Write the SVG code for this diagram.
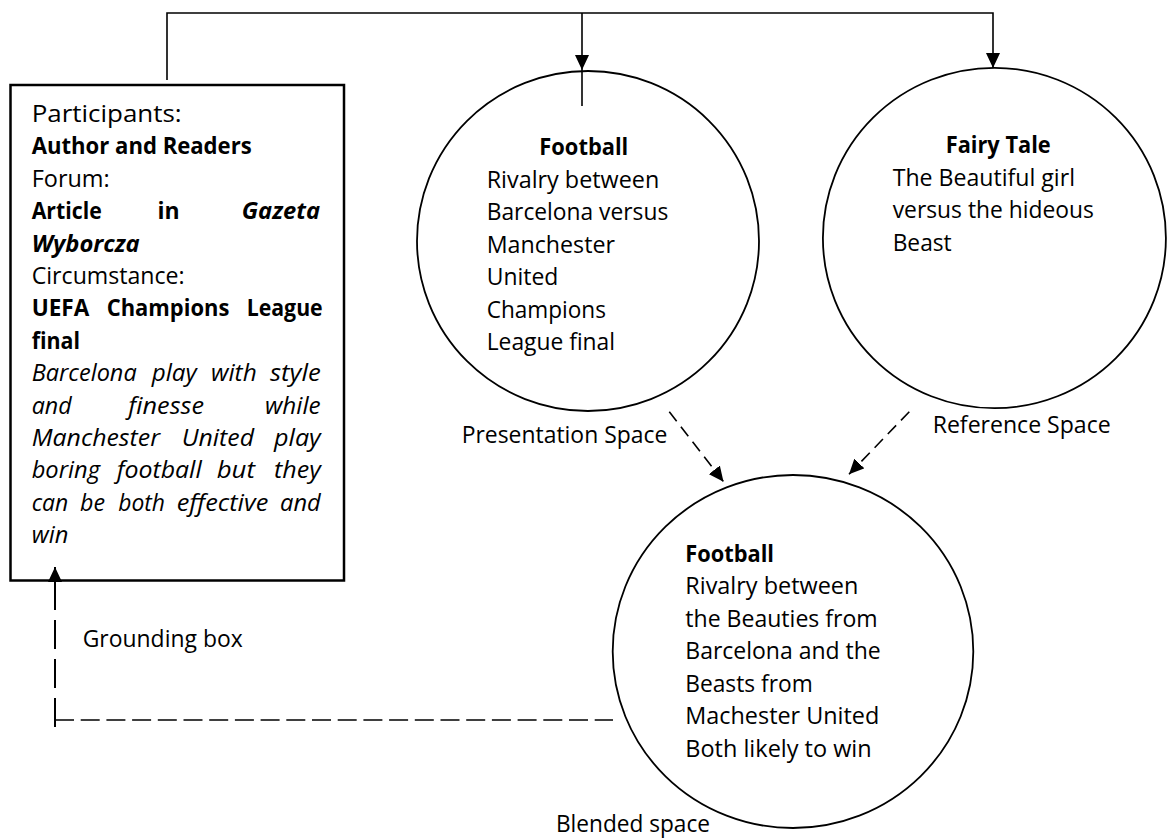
<svg xmlns="http://www.w3.org/2000/svg" width="1168" height="840" viewBox="0 0 1168 840">
<defs>
<style>
text{font-family:"Open Sans","Liberation Sans",sans-serif;font-size:23px;fill:#000}
.b{font-weight:bold}
.i{font-style:italic}
.shape{fill:#fff;stroke:#000;stroke-width:1.8}
.box{fill:#fff;stroke:#000;stroke-width:2.5}
.conn{fill:none;stroke:#000;stroke-width:1.6}
.dash{stroke-dasharray:12 7}
</style>
<marker id="arr" viewBox="0 0 15 14" refX="15" refY="7" markerWidth="15" markerHeight="14" markerUnits="userSpaceOnUse" orient="auto">
<path d="M0,0 L15,7 L0,14 z" fill="#000"/>
</marker>
</defs>
<rect width="1168" height="840" fill="#fff"/>

<g id="grounding-box">
<rect class="box" x="10.5" y="85" width="333.5" height="495.5"/>
<text x="31.7" y="122" textLength="150" lengthAdjust="spacingAndGlyphs">Participants:</text>
<text class="b" x="31.7" y="154.4" textLength="220" lengthAdjust="spacingAndGlyphs">Author and Readers</text>
<text x="31.7" y="186.8" textLength="78" lengthAdjust="spacingAndGlyphs">Forum:</text>
<text class="b" x="31.7" y="219.2" textLength="70" lengthAdjust="spacingAndGlyphs">Article</text>
<text class="b" x="157.5" y="219.2">in</text>
<text class="b i" x="241.7" y="219.2" textLength="78.3" lengthAdjust="spacingAndGlyphs">Gazeta</text>
<text class="b i" x="31.7" y="251.6" textLength="108" lengthAdjust="spacingAndGlyphs">Wyborcza</text>
<text x="31.7" y="284" textLength="153" lengthAdjust="spacingAndGlyphs">Circumstance:</text>
<text class="b" x="31.7" y="316.4" textLength="57.6" lengthAdjust="spacingAndGlyphs">UEFA</text>
<text class="b" x="106.7" y="316.4" textLength="122.6" lengthAdjust="spacingAndGlyphs">Champions</text>
<text class="b" x="246.7" y="316.4" textLength="76" lengthAdjust="spacingAndGlyphs">League</text>
<text class="b" x="31.7" y="348.8" textLength="48.3" lengthAdjust="spacingAndGlyphs">final</text>
<text class="i" x="31.7" y="381.2" textLength="105" lengthAdjust="spacingAndGlyphs">Barcelona</text>
<text class="i" x="151.7" y="381.2" textLength="45" lengthAdjust="spacingAndGlyphs">play</text>
<text class="i" x="211" y="381.2" textLength="45.7" lengthAdjust="spacingAndGlyphs">with</text>
<text class="i" x="270" y="381.2" textLength="50.7" lengthAdjust="spacingAndGlyphs">style</text>
<text class="i" x="31.7" y="413.6" textLength="40" lengthAdjust="spacingAndGlyphs">and</text>
<text class="i" x="128.3" y="413.6" textLength="75.7" lengthAdjust="spacingAndGlyphs">finesse</text>
<text class="i" x="265" y="413.6" textLength="55.7" lengthAdjust="spacingAndGlyphs">while</text>
<text class="i" x="31.7" y="446" textLength="128.3" lengthAdjust="spacingAndGlyphs">Manchester</text>
<text class="i" x="181.7" y="446" textLength="72.3" lengthAdjust="spacingAndGlyphs">United</text>
<text class="i" x="274" y="446" textLength="46.7" lengthAdjust="spacingAndGlyphs">play</text>
<text class="i" x="31.7" y="478.4" textLength="68.3" lengthAdjust="spacingAndGlyphs">boring</text>
<text class="i" x="116.7" y="478.4" textLength="85" lengthAdjust="spacingAndGlyphs">football</text>
<text class="i" x="216.7" y="478.4" textLength="38.3" lengthAdjust="spacingAndGlyphs">but</text>
<text class="i" x="274" y="478.4" textLength="46.7" lengthAdjust="spacingAndGlyphs">they</text>
<text class="i" x="31.7" y="510.8" textLength="36.6" lengthAdjust="spacingAndGlyphs">can</text>
<text class="i" x="80" y="510.8" textLength="25" lengthAdjust="spacingAndGlyphs">be</text>
<text class="i" x="118.3" y="510.8" textLength="46.7" lengthAdjust="spacingAndGlyphs">both</text>
<text class="i" x="176.7" y="510.8" textLength="91.6" lengthAdjust="spacingAndGlyphs">effective</text>
<text class="i" x="280" y="510.8" textLength="40.7" lengthAdjust="spacingAndGlyphs">and</text>
<text class="i" x="31.7" y="543.2" textLength="36.6" lengthAdjust="spacingAndGlyphs">win</text>
</g>

<g id="presentation-space">
<ellipse class="shape" cx="588" cy="241" rx="171" ry="170"/>
<text class="b" x="539.3" y="155" textLength="89" lengthAdjust="spacingAndGlyphs">Football</text>
<text x="486.7" y="187.5" textLength="172.6" lengthAdjust="spacingAndGlyphs">Rivalry between</text>
<text x="486.7" y="220" textLength="181.6" lengthAdjust="spacingAndGlyphs">Barcelona versus</text>
<text x="486.7" y="252.5" textLength="128.3" lengthAdjust="spacingAndGlyphs">Manchester</text>
<text x="486.7" y="285" textLength="71.6" lengthAdjust="spacingAndGlyphs">United</text>
<text x="486.7" y="317.5" textLength="119.3" lengthAdjust="spacingAndGlyphs">Champions</text>
<text x="486.7" y="350" textLength="128.3" lengthAdjust="spacingAndGlyphs">League final</text>
</g>

<g id="reference-space">
<ellipse class="shape" cx="994.4" cy="238" rx="171.5" ry="170.2"/>
<text class="b" x="945.7" y="153.3" textLength="105" lengthAdjust="spacingAndGlyphs">Fairy Tale</text>
<text x="892.7" y="185.8" textLength="182.3" lengthAdjust="spacingAndGlyphs">The Beautiful girl</text>
<text x="892.7" y="218.3" textLength="201.3" lengthAdjust="spacingAndGlyphs">versus the hideous</text>
<text x="892.7" y="250.8" textLength="59" lengthAdjust="spacingAndGlyphs">Beast</text>
</g>

<g id="blended-space">
<ellipse class="shape" cx="793" cy="651.5" rx="180.3" ry="176.5"/>
<text class="b" x="685.3" y="561.7" textLength="88.7" lengthAdjust="spacingAndGlyphs">Football</text>
<text x="685.3" y="594.2" textLength="173" lengthAdjust="spacingAndGlyphs">Rivalry between</text>
<text x="685.3" y="626.7" textLength="192.4" lengthAdjust="spacingAndGlyphs">the Beauties from</text>
<text x="685.3" y="659.2" textLength="195.4" lengthAdjust="spacingAndGlyphs">Barcelona and the</text>
<text x="685.3" y="691.7" textLength="127.4" lengthAdjust="spacingAndGlyphs">Beasts from</text>
<text x="685.3" y="724.2" textLength="194" lengthAdjust="spacingAndGlyphs">Machester United</text>
<text x="685.3" y="756.7" textLength="186.4" lengthAdjust="spacingAndGlyphs">Both likely to win</text>
</g>

<g id="labels">
<text x="461.7" y="442.5" textLength="205.6" lengthAdjust="spacingAndGlyphs">Presentation Space</text>
<text x="932.7" y="433.3" textLength="178" lengthAdjust="spacingAndGlyphs">Reference Space</text>
<text x="556" y="832" textLength="154" lengthAdjust="spacingAndGlyphs">Blended space</text>
<text x="82.7" y="647.3" textLength="160" lengthAdjust="spacingAndGlyphs">Grounding box</text>
</g>

<g id="connectors">
<path class="conn" d="M167 80 V13 H993 V68" marker-end="url(#arr)"/>
<path class="conn" d="M582 13 V70" marker-end="url(#arr)"/>
<path class="conn" d="M582 70 V106"/>
<path class="conn dash" d="M669.3 411.7 L723.5 481.7" marker-end="url(#arr)"/>
<path class="conn dash" d="M909.3 411.7 L849 474.3" marker-end="url(#arr)"/>
<path class="conn" d="M55 720 H613" style="stroke-dasharray:19 6.7"/>
<path class="conn" d="M55 727 V567" style="stroke-dasharray:29 10;stroke-width:2" marker-end="url(#arr)"/>
</g>
</svg>
